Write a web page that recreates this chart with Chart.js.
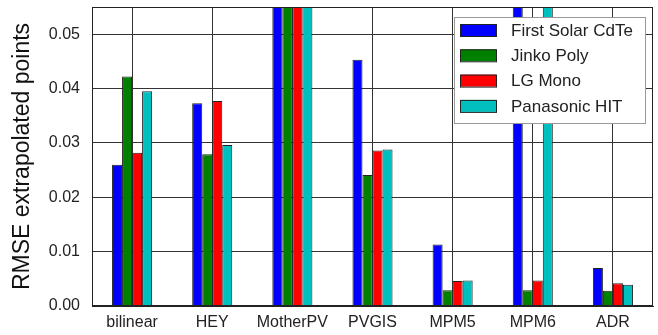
<!DOCTYPE html>
<html>
<head>
<meta charset="utf-8">
<script src="https://cdn.jsdelivr.net/npm/chart.js@4"></script>
<style>
  html, body { margin: 0; padding: 0; background: #fff; }
  #wrap { width: 658px; height: 335px; }
</style>
</head>
<body>
<div id="wrap"><canvas id="chart" width="658" height="335"></canvas></div>
<script>
// categories and series (values above 0.055 run off the top of the plot)
var categories = ['bilinear', 'HEY', 'MotherPV', 'PVGIS', 'MPM5', 'MPM6', 'ADR'];
var firstSolar = [0.0260, 0.0373, 0.1200, 0.0453, 0.0113, 0.0800, 0.0070];
var jinkoPoly  = [0.0422, 0.0279, 0.1200, 0.0241, 0.0029, 0.0029, 0.0028];
var lgMono     = [0.0282, 0.0377, 0.1200, 0.0286, 0.0046, 0.0047, 0.0042];
var panasonic  = [0.0395, 0.0296, 0.1200, 0.0288, 0.0047, 0.0800, 0.0039];
var yTicks = [0.00, 0.01, 0.02, 0.03, 0.04, 0.05];

var FONT = "'Liberation Sans', Arial, sans-serif";

function makeSet(label, data, color) {
    return {
        label: label,
        data: data,
        backgroundColor: color,
        borderColor: '#222',
        borderWidth: 1,
        categoryPercentage: 0.5,
        barPercentage: 1.0
    };
}

// box round the plot plus a matplotlib-like legend in the upper right
var framePlugin = {
    id: 'frame',
    afterDraw: function (chart) {
        var ctx = chart.ctx;
        var a = chart.chartArea;
        ctx.save();
        ctx.strokeStyle = '#222';
        ctx.lineWidth = 1;
        ctx.strokeRect(a.left + 0.5, a.top + 0.5, a.right - a.left - 1, a.bottom - a.top - 1);

        var bx = a.right - 199, by = a.top + 10, bw = 191, bh = 106;
        ctx.fillStyle = '#fff';
        ctx.fillRect(bx, by, bw, bh);
        ctx.strokeStyle = '#999';
        ctx.strokeRect(bx + 0.5, by + 0.5, bw, bh);

        ctx.font = '17px ' + FONT;
        ctx.textBaseline = 'middle';
        ctx.textAlign = 'left';
        chart.data.datasets.forEach(function (ds, i) {
            var cy = by + 13 + i * 25.3;
            ctx.fillStyle = ds.backgroundColor;
            ctx.fillRect(bx + 6.5, cy - 6, 36, 12);
            ctx.strokeStyle = '#222';
            ctx.strokeRect(bx + 6.5, cy - 6 + 0.5, 36, 12);
            ctx.fillStyle = '#222';
            ctx.fillText(ds.label, bx + 57, cy + 1);
        });
        ctx.restore();
    }
};

var ctx = document.getElementById('chart').getContext('2d');
new Chart(ctx, {
    type: 'bar',
    data: {
        labels: categories,
        datasets: [
            makeSet('First Solar CdTe', firstSolar, '#0000ff'),
            makeSet('Jinko Poly', jinkoPoly, '#008000'),
            makeSet('LG Mono', lgMono, '#ff0000'),
            makeSet('Panasonic HIT', panasonic, '#00bfbf')
        ]
    },
    options: {
        responsive: false,
        animation: false,
        layout: { padding: { top: 7, right: 5, left: 0, bottom: 0 } },
        plugins: {
            legend: { display: false },
            tooltip: { enabled: false }
        },
        scales: {
            x: {
                offset: true,
                grid: { offset: false, color: '#333', drawTicks: false },
                border: { color: '#222' },
                ticks: { color: '#222', font: { family: FONT, size: 16 }, padding: 7 },
                afterFit: function (scale) {
                    scale.height = 29;
                    scale.paddingLeft = 0;
                    scale.paddingRight = 0;
                }
            },
            y: {
                min: 0,
                max: 0.055,
                afterBuildTicks: function (scale) {
                    scale.ticks = yTicks.map(function (v) { return { value: v }; });
                },
                grid: { color: '#333', drawTicks: false },
                border: { color: '#222' },
                ticks: {
                    color: '#222',
                    font: { family: FONT, size: 16 },
                    padding: 12,
                    callback: function (v) { return v.toFixed(2); }
                },
                title: {
                    display: true,
                    text: 'RMSE extrapolated points',
                    color: '#111',
                    font: { family: FONT, size: 23 },
                    padding: { top: 9, bottom: 6 }
                },
                afterFit: function (scale) {
                    scale.width = 92;
                    scale.paddingTop = 0;
                    scale.paddingBottom = 0;
                }
            }
        }
    },
    plugins: [framePlugin]
});
</script>
</body>
</html>
